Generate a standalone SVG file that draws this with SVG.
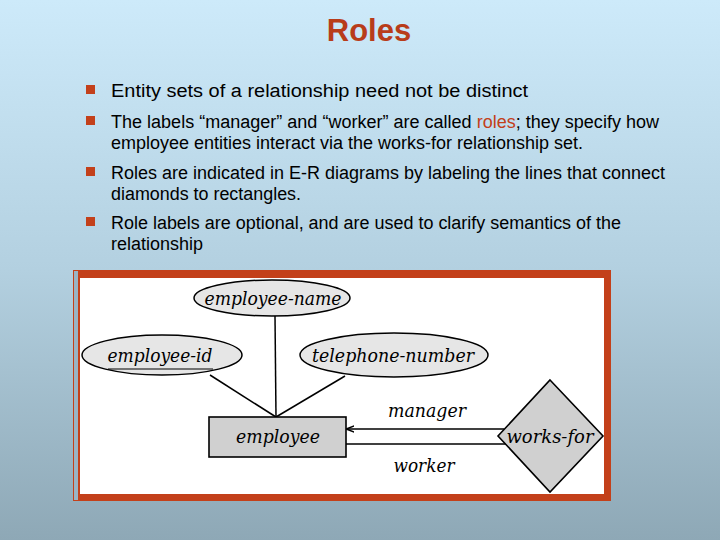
<svg xmlns="http://www.w3.org/2000/svg" width="720" height="540" viewBox="0 0 720 540">
<defs>
<linearGradient id="bg" x1="0" y1="0" x2="0" y2="1">
<stop offset="0" stop-color="#cdeafa"/>
<stop offset="0.5" stop-color="#b3d0e0"/>
<stop offset="1" stop-color="#8ea8b6"/>
</linearGradient>
<marker id="arr" viewBox="0 0 10 10" refX="9" refY="5" markerWidth="8" markerHeight="8" orient="auto" markerUnits="userSpaceOnUse">
<path d="M10,5 L0,1 M10,5 L0,9" stroke="#000" stroke-width="1.8" fill="none"/>
</marker>
<style>
.body{font-family:"Liberation Sans",Arial,sans-serif;font-size:18px;fill:#000}
.bul{fill:#c3401a}
.er{font-family:"DejaVu Serif","Liberation Serif",serif;font-style:italic;font-size:19px;fill:#000;text-anchor:middle}
.attr{fill:#e6e6e6;stroke:#000;stroke-width:1.5}
.ent{fill:#d0d0d0;stroke:#000;stroke-width:1.6}
.ln{stroke:#000;stroke-width:1.5;fill:none}
</style>
</defs>
<rect width="720" height="540" fill="url(#bg)"/>
<text x="369" y="41" text-anchor="middle" font-family="Liberation Sans,Arial,sans-serif" font-weight="bold" font-size="31" fill="#b83c1a">Roles</text>
<g id="bullets">
<rect class="bul" x="86" y="85" width="9" height="9"/>
<rect class="bul" x="86" y="116" width="9" height="9"/>
<rect class="bul" x="86" y="167" width="9" height="9"/>
<rect class="bul" x="86" y="217" width="9" height="9"/>
<text class="body" x="111" y="97" textLength="417" lengthAdjust="spacingAndGlyphs">Entity sets of a relationship need not be distinct</text>
<text class="body" x="111" y="128" textLength="548" lengthAdjust="spacingAndGlyphs">The labels “manager” and “worker” are called <tspan fill="#c3401a">roles</tspan>; they specify how</text>
<text class="body" x="111" y="149" textLength="472" lengthAdjust="spacingAndGlyphs">employee entities interact via the works-for relationship set.</text>
<text class="body" x="111" y="179" textLength="554" lengthAdjust="spacingAndGlyphs">Roles are indicated in E-R diagrams by labeling the lines that connect</text>
<text class="body" x="111" y="200" textLength="190" lengthAdjust="spacingAndGlyphs">diamonds to rectangles.</text>
<text class="body" x="111" y="229" textLength="510" lengthAdjust="spacingAndGlyphs">Role labels are optional, and are used to clarify semantics of the</text>
<text class="body" x="111" y="250" textLength="92" lengthAdjust="spacingAndGlyphs">relationship</text>
</g>
<g id="frame">
<rect x="73" y="270" width="538" height="231" fill="#c3401a"/>
<rect x="74" y="271" width="4" height="229" fill="#9ab4c4"/>
<rect x="80" y="278" width="524" height="216" fill="#fff"/>
</g>
<g id="connectors">
<line class="ln" x1="275" y1="316" x2="276" y2="417"/>
<line class="ln" x1="210" y1="375" x2="276" y2="417"/>
<line class="ln" x1="345" y1="376" x2="276" y2="417"/>
<line class="ln" x1="504" y1="429" x2="347" y2="429" stroke-width="2" marker-end="url(#arr)"/>
<line class="ln" x1="346" y1="444" x2="509" y2="444"/>
<text class="er" x="427" y="417" textLength="78" lengthAdjust="spacingAndGlyphs">manager</text>
<text class="er" x="424" y="472" textLength="61" lengthAdjust="spacingAndGlyphs">worker</text>
</g>
<g id="employee-name">
<ellipse class="attr" cx="272" cy="298" rx="78" ry="18"/>
<text class="er" x="273" y="305" textLength="137" lengthAdjust="spacingAndGlyphs">employee-name</text>
</g>
<g id="employee-id">
<ellipse class="attr" cx="162" cy="355" rx="80" ry="20"/>
<text class="er" x="160" y="362" textLength="105" lengthAdjust="spacingAndGlyphs">employee-id</text>
<line x1="108" y1="369" x2="213" y2="369" stroke="#000" stroke-width="1.2"/>
</g>
<g id="telephone-number">
<ellipse class="attr" cx="394" cy="355" rx="94" ry="22"/>
<text class="er" x="393" y="362" textLength="162" lengthAdjust="spacingAndGlyphs">telephone-number</text>
</g>
<g id="employee">
<rect class="ent" x="209" y="417" width="137" height="40"/>
<text class="er" x="278" y="443" textLength="84" lengthAdjust="spacingAndGlyphs">employee</text>
</g>
<g id="works-for">
<polygon class="ent" points="550,380 603,436 550,492 498,436"/>
<text class="er" x="550" y="443" textLength="87" lengthAdjust="spacingAndGlyphs">works-for</text>
</g>
</svg>
